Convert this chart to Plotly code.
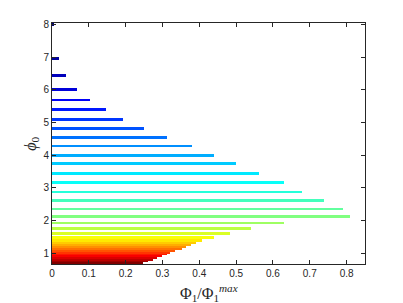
import plotly.graph_objects as go

# phi_0 positions (bottom to top) and bar lengths Phi_1/Phi_1^max
phi0 = [0.70, 0.76, 0.80, 0.87, 0.92, 0.98, 1.02, 1.09, 1.14, 1.21, 1.26, 1.31, 1.39,
        1.49, 1.60, 1.75, 1.92, 2.11, 2.35, 2.61, 2.87, 3.16, 3.45, 3.75, 4.00,
        4.28, 4.55, 4.82, 5.10, 5.39, 5.69, 6.02, 6.44, 6.97, 8.00]
ratio = [0.247, 0.261, 0.274, 0.286, 0.299, 0.311, 0.320, 0.335, 0.352, 0.365, 0.378, 0.392, 0.408,
         0.440, 0.484, 0.540, 0.630, 0.810, 0.789, 0.740, 0.680, 0.630, 0.563, 0.500, 0.440,
         0.380, 0.3125, 0.251, 0.194, 0.146, 0.102, 0.067, 0.038, 0.018, 0.005]

x_ticks = [0, 0.1, 0.2, 0.3, 0.4, 0.5, 0.6, 0.7, 0.8]
x_tick_labels = ["0", "0.1", "0.2", "0.3", "0.4", "0.5", "0.6", "0.7", "0.8"]
y_ticks = [1, 2, 3, 4, 5, 6, 7, 8]

# MATLAB-style jet colormap
jet = [[0.0, "rgb(0,0,128)"], [0.125, "rgb(0,0,255)"], [0.375, "rgb(0,255,255)"],
       [0.625, "rgb(255,255,0)"], [0.875, "rgb(255,0,0)"], [1.0, "rgb(128,0,0)"]]

order = list(range(len(phi0)))

fig = go.Figure(go.Bar(
    x=ratio, y=phi0, orientation="h", width=0.09,
    marker=dict(color=order, colorscale=jet, reversescale=True, line=dict(width=0)),
    showlegend=False,
))

axis_common = dict(
    showline=True, linecolor="#262626", linewidth=1, mirror="ticks",
    ticks="inside", ticklen=4, tickcolor="#262626", tickwidth=1,
    showgrid=False, zeroline=False, automargin=False,
    tickfont=dict(family="Liberation Sans, Arial", size=10, color="#262626"),
)

title_font = dict(family="Liberation Serif, DejaVu Serif", size=16, color="#262626")

fig.update_layout(
    width=403, height=303,
    margin=dict(l=52, r=38, t=23, b=39),
    paper_bgcolor="white", plot_bgcolor="white",
    bargap=0,
    xaxis=dict(range=[0, 0.85], tickvals=x_ticks, ticktext=x_tick_labels, **axis_common),
    yaxis=dict(range=[0.664, 8.05], tickvals=y_ticks, **axis_common),
    annotations=[
        dict(text="Φ<sub>1</sub>/Φ<sub>1</sub><sup><i>max</i></sup>", xref="paper", yref="paper",
             x=0.5, y=-0.065, xanchor="center", yanchor="top", showarrow=False, font=title_font),
        dict(text="<i>ϕ</i><sub>0</sub>", xref="paper", yref="paper", textangle=-90,
             x=-0.066, y=0.5, xanchor="center", yanchor="middle", showarrow=False, font=title_font),
    ],
)

fig.write_html("out.html", config={"displayModeBar": False},
               post_script="document.body.style.margin='0px';document.body.style.overflow='hidden';")
